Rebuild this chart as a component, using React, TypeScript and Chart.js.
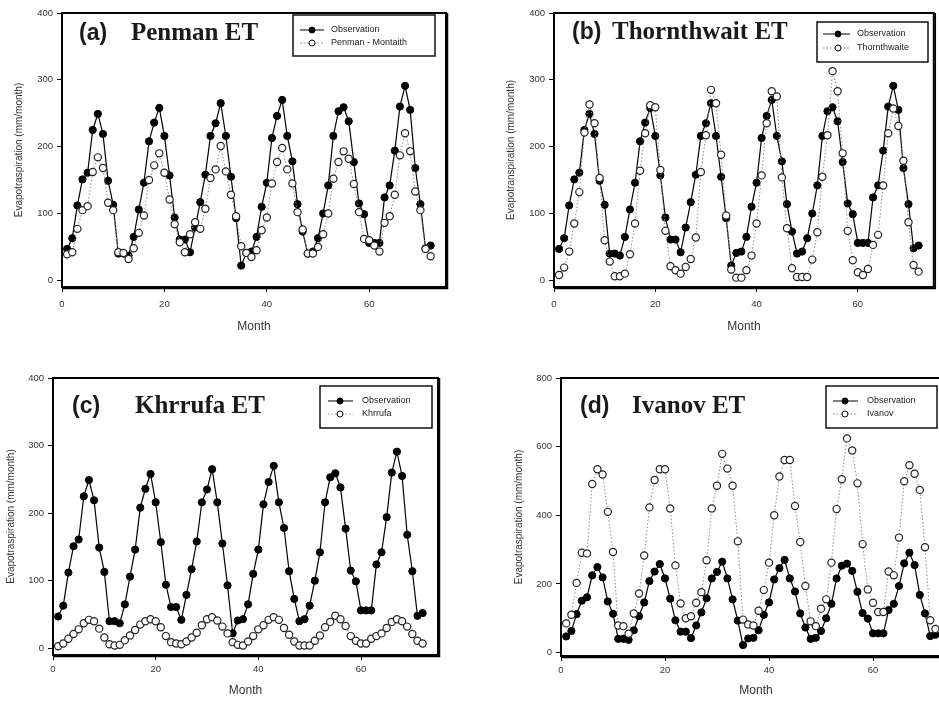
import React, { useEffect, useRef } from "react";
import { Chart, registerables } from "chart.js";

Chart.register(...registerables);

// ---------- data ----------
const months = [
  1, 2, 3, 4, 5, 6, 7, 8, 9, 10, 11, 12, 13, 14, 15, 16, 17, 18, 19, 20, 21, 22, 23, 24,
  25, 26, 27, 28, 29, 30, 31, 32, 33, 34, 35, 36, 37, 38, 39, 40, 41, 42, 43, 44, 45, 46, 47, 48,
  49, 50, 51, 52, 53, 54, 55, 56, 57, 58, 59, 60, 61, 62, 63, 64, 65, 66, 67, 68, 69, 70, 71, 72,
];

const observation = [
  47, 63, 112, 151, 161, 225, 249, 219, 149, 113,
  40, 40, 37, 65, 106, 146, 208, 236, 258, 216,
  157, 94, 61, 61, 42, 79, 117, 158, 216, 235,
  265, 216, 155, 93, 22, 41, 43, 65, 110, 146,
  213, 246, 270, 216, 178, 114, 73, 40, 43, 63,
  100, 142, 216, 253, 259, 238, 177, 115, 99, 56,
  56, 56, 124, 142, 194, 260, 291, 255, 168, 114,
  48, 52,
];

const penmanMonteith = [
  39, 42, 77, 105, 111, 162, 184, 168, 116, 105,
  42, 41, 32, 48, 71, 97, 150, 172, 190, 161,
  121, 84, 57, 42, 69, 87, 77, 107, 153, 166,
  201, 163, 128, 96, 51, 41, 35, 45, 75, 94,
  145, 177, 198, 166, 145, 102, 76, 40, 40, 50,
  69, 100, 152, 177, 193, 182, 144, 102, 62, 60,
  52, 43, 86, 96, 128, 187, 220, 193, 133, 105,
  47, 36,
];

const thornthwaite = [
  8, 19, 43, 85, 132, 221, 263, 235, 153, 60,
  28, 6, 6, 10, 39, 85, 164, 220, 262, 259,
  165, 74, 21, 15, 10, 20, 32, 64, 162, 217,
  285, 265, 188, 97, 16, 4, 4, 15, 37, 85,
  157, 235, 283, 275, 154, 78, 18, 5, 5, 5,
  31, 72, 155, 217, 313, 283, 190, 74, 30, 12,
  8, 17, 53, 68, 142, 220, 257, 231, 179, 87,
  23, 13,
];

const khrrufa = [
  3, 7, 14, 21, 28, 37, 42, 40, 29, 16,
  6, 4, 5, 12, 19, 27, 35, 40, 43, 40,
  31, 18, 9, 7, 6, 10, 16, 23, 34, 43,
  46, 41, 32, 22, 9, 5, 4, 10, 18, 28,
  34, 42, 46, 42, 30, 20, 10, 4, 4, 4,
  11, 19, 31, 39, 48, 43, 33, 18, 11, 7,
  7, 14, 18, 22, 30, 39, 43, 40, 32, 21,
  11, 7,
];

const ivanov = [
  85, 110, 203, 291, 289, 491, 534, 519, 410, 293,
  79, 77, 55, 114, 172, 283, 423, 503, 534, 534,
  420, 254, 143, 100, 106, 145, 176, 269, 420, 486,
  579, 536, 486, 324, 96, 82, 79, 122, 182, 262,
  400, 513, 561, 561, 427, 322, 194, 91, 77, 128,
  155, 262, 418, 505, 624, 589, 493, 316, 184, 145,
  118, 118, 236, 225, 335, 499, 546, 521, 474, 307,
  94, 69,
];

const xTicks = [0, 20, 40, 60];
const yTicks400 = [0, 100, 200, 300, 400];
const yTicks800 = [0, 200, 400, 600, 800];

// ---------- layout / style ----------
const SANS = '"Liberation Sans", Arial, Helvetica, sans-serif';
const SERIF = '"Liberation Serif", "Times New Roman", serif';

type Box = { left: number; top: number; width: number; height: number };
type LegendSpec = { box: Box; rows: number[]; sample: number[]; marker: number; text: number };
type PanelSpec = {
  id: string;
  tag: string;
  name: string;
  tagX: number;
  nameX: number;
  baseline: number;
  model: number[];
  modelName: string;
  yTitle: string;
  yMin: number;
  yMax: number;
  yTicks: number[];
  canvas: Box;
  padTop: number;
  padRight: number;
  yWidth: number;
  xHeight: number;
  yTitlePad: number;
  xTitlePad: number;
  xTickPad: number;
  legend: LegendSpec;
};

const panels: PanelSpec[] = [
  {
    id: "a", tag: "(a)", name: "Penman ET", tagX: 79, nameX: 131, baseline: 40,
    model: penmanMonteith, modelName: "Penman - Montaith",
    yTitle: "Evapotraspiration (mm/month)", yMin: -10, yMax: 400, yTicks: yTicks400,
    canvas: { left: 0, top: 0, width: 470, height: 340 },
    padTop: 13, padRight: 24, yWidth: 62, xHeight: 53, yTitlePad: 13, xTitlePad: 6, xTickPad: 7,
    legend: { box: { left: 293, top: 15, width: 142, height: 41 }, rows: [30, 43], sample: [300, 324], marker: 312, text: 331 },
  },
  {
    id: "b", tag: "(b)", name: "Thornthwait ET", tagX: 572, nameX: 612, baseline: 39,
    model: thornthwaite, modelName: "Thornthwaite",
    yTitle: "Evapotranspiration (mm/month)", yMin: -10, yMax: 400, yTicks: yTicks400,
    canvas: { left: 490, top: 0, width: 449, height: 340 },
    padTop: 13, padRight: 1, yWidth: 64, xHeight: 53, yTitlePad: 15, xTitlePad: 6, xTickPad: 7,
    legend: { box: { left: 817, top: 22, width: 111, height: 40 }, rows: [34, 48], sample: [823, 850], marker: 838, text: 857 },
  },
  {
    id: "c", tag: "(c)", name: "Khrrufa ET", tagX: 72, nameX: 135, baseline: 413,
    model: khrrufa, modelName: "Khrrufa",
    yTitle: "Evapotraspiration (mm/month)", yMin: -10, yMax: 400, yTicks: yTicks400,
    canvas: { left: 0, top: 345, width: 470, height: 355 },
    padTop: 33, padRight: 32, yWidth: 53, xHeight: 45, yTitlePad: 5, xTitlePad: 2, xTickPad: 4,
    legend: { box: { left: 320, top: 386, width: 112, height: 42 }, rows: [401, 414], sample: [328, 353], marker: 340, text: 362 },
  },
  {
    id: "d", tag: "(d)", name: "Ivanov ET", tagX: 580, nameX: 632, baseline: 413,
    model: ivanov, modelName: "Ivanov",
    yTitle: "Evapotraspiration (mm/month)", yMin: -10, yMax: 800, yTicks: yTicks800,
    canvas: { left: 490, top: 345, width: 480, height: 355 },
    padTop: 33, padRight: 19, yWidth: 71, xHeight: 44, yTitlePad: 23, xTitlePad: 2, xTickPad: 4,
    legend: { box: { left: 826, top: 386, width: 111, height: 42 }, rows: [401, 414], sample: [833, 858], marker: 845, text: 867 },
  },
];

function Panel({ p }: { p: PanelSpec }) {
  const ref = useRef<HTMLCanvasElement | null>(null);

  useEffect(() => {
    const canvas = ref.current;
    if (!canvas) return;
    const ox = p.canvas.left;
    const oy = p.canvas.top;
    const lg = p.legend;
    const toPts = (vals: number[]) => vals.map((v, i) => ({ x: months[i], y: v }));

    const framePlugin = {
      id: "frame" + p.id,
      afterDatasetsDraw(chart: any) {
        const { ctx, chartArea: a } = chart;
        ctx.save();
        ctx.strokeStyle = "#000";
        ctx.lineWidth = 2;
        ctx.strokeRect(a.left, a.top, a.right - a.left, a.bottom - a.top);
        ctx.lineWidth = 1.5;
        ctx.beginPath();
        ctx.moveTo(a.left, a.bottom + 1.5);
        ctx.lineTo(a.right + 1.5, a.bottom + 1.5);
        ctx.lineTo(a.right + 1.5, a.top);
        ctx.stroke();
        ctx.restore();
      },
    };

    const legendPlugin = {
      id: "boxLegend" + p.id,
      afterDraw(chart: any) {
        const ctx = chart.ctx;
        ctx.save();
        ctx.strokeStyle = "#111";
        ctx.lineWidth = 1.5;
        ctx.strokeRect(lg.box.left - ox, lg.box.top - oy, lg.box.width, lg.box.height);
        chart.data.datasets.forEach((ds: any, k: number) => {
          const y = lg.rows[k] - oy;
          const filled = k === 0;
          ctx.beginPath();
          ctx.setLineDash(filled ? [] : [1.5, 2]);
          ctx.strokeStyle = filled ? "#000" : "#888";
          ctx.lineWidth = 1;
          ctx.moveTo(lg.sample[0] - ox, y);
          ctx.lineTo(lg.sample[1] - ox, y);
          ctx.stroke();
          ctx.setLineDash([]);
          ctx.beginPath();
          ctx.arc(lg.marker - ox, y, 3, 0, Math.PI * 2);
          ctx.fillStyle = filled ? "#000" : "#fff";
          ctx.fill();
          ctx.strokeStyle = "#000";
          ctx.lineWidth = 1;
          ctx.stroke();
          ctx.fillStyle = "#222";
          ctx.font = `9px ${SANS}`;
          ctx.textBaseline = "middle";
          ctx.textAlign = "left";
          ctx.fillText(ds.label, lg.text - ox, y);
        });
        ctx.restore();
      },
    };

    const chart = new Chart(canvas, {
      type: "line",
      data: {
        datasets: [
          {
            label: "Observation",
            data: toPts(observation),
            borderColor: "#000",
            borderWidth: 1.2,
            pointRadius: 3.6,
            pointBackgroundColor: "#000",
            pointBorderColor: "#000",
            pointBorderWidth: 1,
            tension: 0,
            order: 1,
          },
          {
            label: p.modelName,
            data: toPts(p.model),
            borderColor: "#8a8a8a",
            borderWidth: 1,
            borderDash: [1.5, 2],
            pointRadius: 3.6,
            pointBackgroundColor: "#fff",
            pointBorderColor: "#222",
            pointBorderWidth: 1.2,
            tension: 0,
            order: 0,
          },
        ],
      },
      options: {
        responsive: false,
        animation: false,
        devicePixelRatio: 1,
        events: [],
        layout: { padding: { top: p.padTop, right: p.padRight, bottom: 0, left: 0 } },
        plugins: { legend: { display: false }, tooltip: { enabled: false } },
        scales: {
          x: {
            type: "linear",
            min: 0,
            max: 75,
            afterBuildTicks: (s: any) => {
              s.ticks = xTicks.map((v) => ({ value: v }));
            },
            afterFit: (s: any) => {
              s.height = p.xHeight;
            },
            grid: { display: true, drawOnChartArea: false, drawTicks: true, tickLength: 5, color: "#000", lineWidth: 1 },
            border: { display: false },
            ticks: { color: "#333", font: { family: SANS, size: 9.5 }, padding: p.xTickPad, maxRotation: 0, autoSkip: false },
            title: {
              display: true,
              text: "Month",
              color: "#333",
              font: { family: SANS, size: 12 },
              padding: { top: 0, bottom: p.xTitlePad },
            },
          },
          y: {
            type: "linear",
            min: p.yMin,
            max: p.yMax,
            afterBuildTicks: (s: any) => {
              s.ticks = p.yTicks.map((v) => ({ value: v }));
            },
            afterFit: (s: any) => {
              s.width = p.yWidth;
            },
            grid: { display: true, drawOnChartArea: false, drawTicks: true, tickLength: 5, color: "#000", lineWidth: 1 },
            border: { display: false },
            ticks: { color: "#333", font: { family: SANS, size: 9.5 }, padding: 4, autoSkip: false },
            title: {
              display: true,
              text: p.yTitle,
              color: "#333",
              font: { family: SANS, size: 10 },
              padding: { top: p.yTitlePad, bottom: 0 },
            },
          },
        },
      },
      plugins: [framePlugin, legendPlugin],
    } as any);

    return () => chart.destroy();
  }, [p]);

  return (
    <>
      <canvas
        ref={ref}
        width={p.canvas.width}
        height={p.canvas.height}
        style={{
          position: "absolute",
          left: p.canvas.left,
          top: p.canvas.top,
          width: p.canvas.width,
          height: p.canvas.height,
        }}
      />
      <div
        style={{
          position: "absolute",
          left: p.tagX,
          top: p.baseline - 19.6,
          fontFamily: SANS,
          fontWeight: "bold",
          fontSize: 23,
          lineHeight: "24px",
          color: "#1a1a1a",
          whiteSpace: "nowrap",
        }}
      >
        {p.tag}
      </div>
      <div
        style={{
          position: "absolute",
          left: p.nameX,
          top: p.baseline - 20.9,
          fontFamily: SERIF,
          fontWeight: "bold",
          fontSize: 25,
          lineHeight: "25px",
          color: "#1a1a1a",
          whiteSpace: "nowrap",
        }}
      >
        {p.name}
      </div>
    </>
  );
}

export default function App() {
  return (
    <div
      style={{
        position: "fixed",
        left: 0,
        top: 0,
        width: 939,
        height: 702,
        overflow: "hidden",
        background: "#fff",
      }}
    >
      {panels.map((p) => (
        <Panel key={p.id} p={p} />
      ))}
    </div>
  );
}
